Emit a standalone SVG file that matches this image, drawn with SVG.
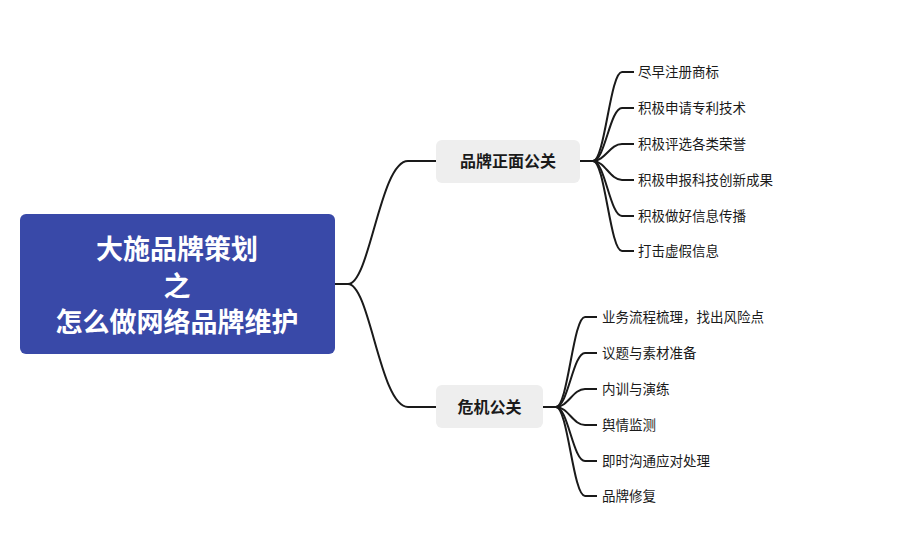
<svg xmlns="http://www.w3.org/2000/svg" width="907" height="560" viewBox="0 0 907 560">
<style>
text{font-family:"Noto Sans CJK SC","Noto Sans",sans-serif}
.c{fill:none;stroke:#1a1a1a;stroke-width:2}
.sub{fill:#eeeeee}
.st{font-size:16px;font-weight:bold;fill:#1a1a1a;text-anchor:middle;dominant-baseline:central}
.lf{font-size:13.5px;fill:#1a1a1a;dominant-baseline:central}
.rt{font-size:27px;font-weight:bold;fill:#fff;text-anchor:middle;dominant-baseline:central}
</style>
<rect width="907" height="560" fill="#fff"/>
<g id="connectors">
<path class="c" d="M335 284H348C370 284 380 161 408 161H436"/>
<path class="c" d="M335 284H348C370 284 380 407 408 407H436"/>
<path class="c" d="M580 161H593C605 161 610 72 622 72H634"/>
<path class="c" d="M593 161C605 161 610 108 622 108H634"/>
<path class="c" d="M593 161C605 161 610 144 622 144H634"/>
<path class="c" d="M593 161C605 161 610 180 622 180H634"/>
<path class="c" d="M593 161C605 161 610 216 622 216H634"/>
<path class="c" d="M593 161C605 161 610 251 622 251H634"/>
<path class="c" d="M543 407H556C568 407 573 317 585 317H597"/>
<path class="c" d="M556 407C568 407 573 353 585 353H597"/>
<path class="c" d="M556 407C568 407 573 389 585 389H597"/>
<path class="c" d="M556 407C568 407 573 425 585 425H597"/>
<path class="c" d="M556 407C568 407 573 461 585 461H597"/>
<path class="c" d="M556 407C568 407 573 496 585 496H597"/>
</g>
<g id="root"><rect x="20" y="214" width="315" height="140" rx="6" fill="#3949a8"/>
<text class="rt" x="177" y="247">大施品牌策划</text><text class="rt" x="177" y="284">之</text><text class="rt" x="177" y="320">怎么做网络品牌维护</text></g>
<g id="n1"><rect class="sub" x="436" y="140" width="144" height="43" rx="6"/><text class="st" x="508" y="160">品牌正面公关</text></g>
<g id="n2"><rect class="sub" x="436" y="385" width="107" height="43" rx="6"/><text class="st" x="489.5" y="406">危机公关</text></g>
<g id="l1"><text class="lf" x="638" y="71">尽早注册商标</text></g>
<g id="l2"><text class="lf" x="638" y="107">积极申请专利技术</text></g>
<g id="l3"><text class="lf" x="638" y="143">积极评选各类荣誉</text></g>
<g id="l4"><text class="lf" x="638" y="179">积极申报科技创新成果</text></g>
<g id="l5"><text class="lf" x="638" y="215">积极做好信息传播</text></g>
<g id="l6"><text class="lf" x="638" y="250">打击虚假信息</text></g>
<g id="m1"><text class="lf" x="602" y="316">业务流程梳理，找出风险点</text></g>
<g id="m2"><text class="lf" x="602" y="352">议题与素材准备</text></g>
<g id="m3"><text class="lf" x="602" y="388">内训与演练</text></g>
<g id="m4"><text class="lf" x="602" y="424">舆情监测</text></g>
<g id="m5"><text class="lf" x="602" y="460">即时沟通应对处理</text></g>
<g id="m6"><text class="lf" x="602" y="495">品牌修复</text></g>
</svg>
